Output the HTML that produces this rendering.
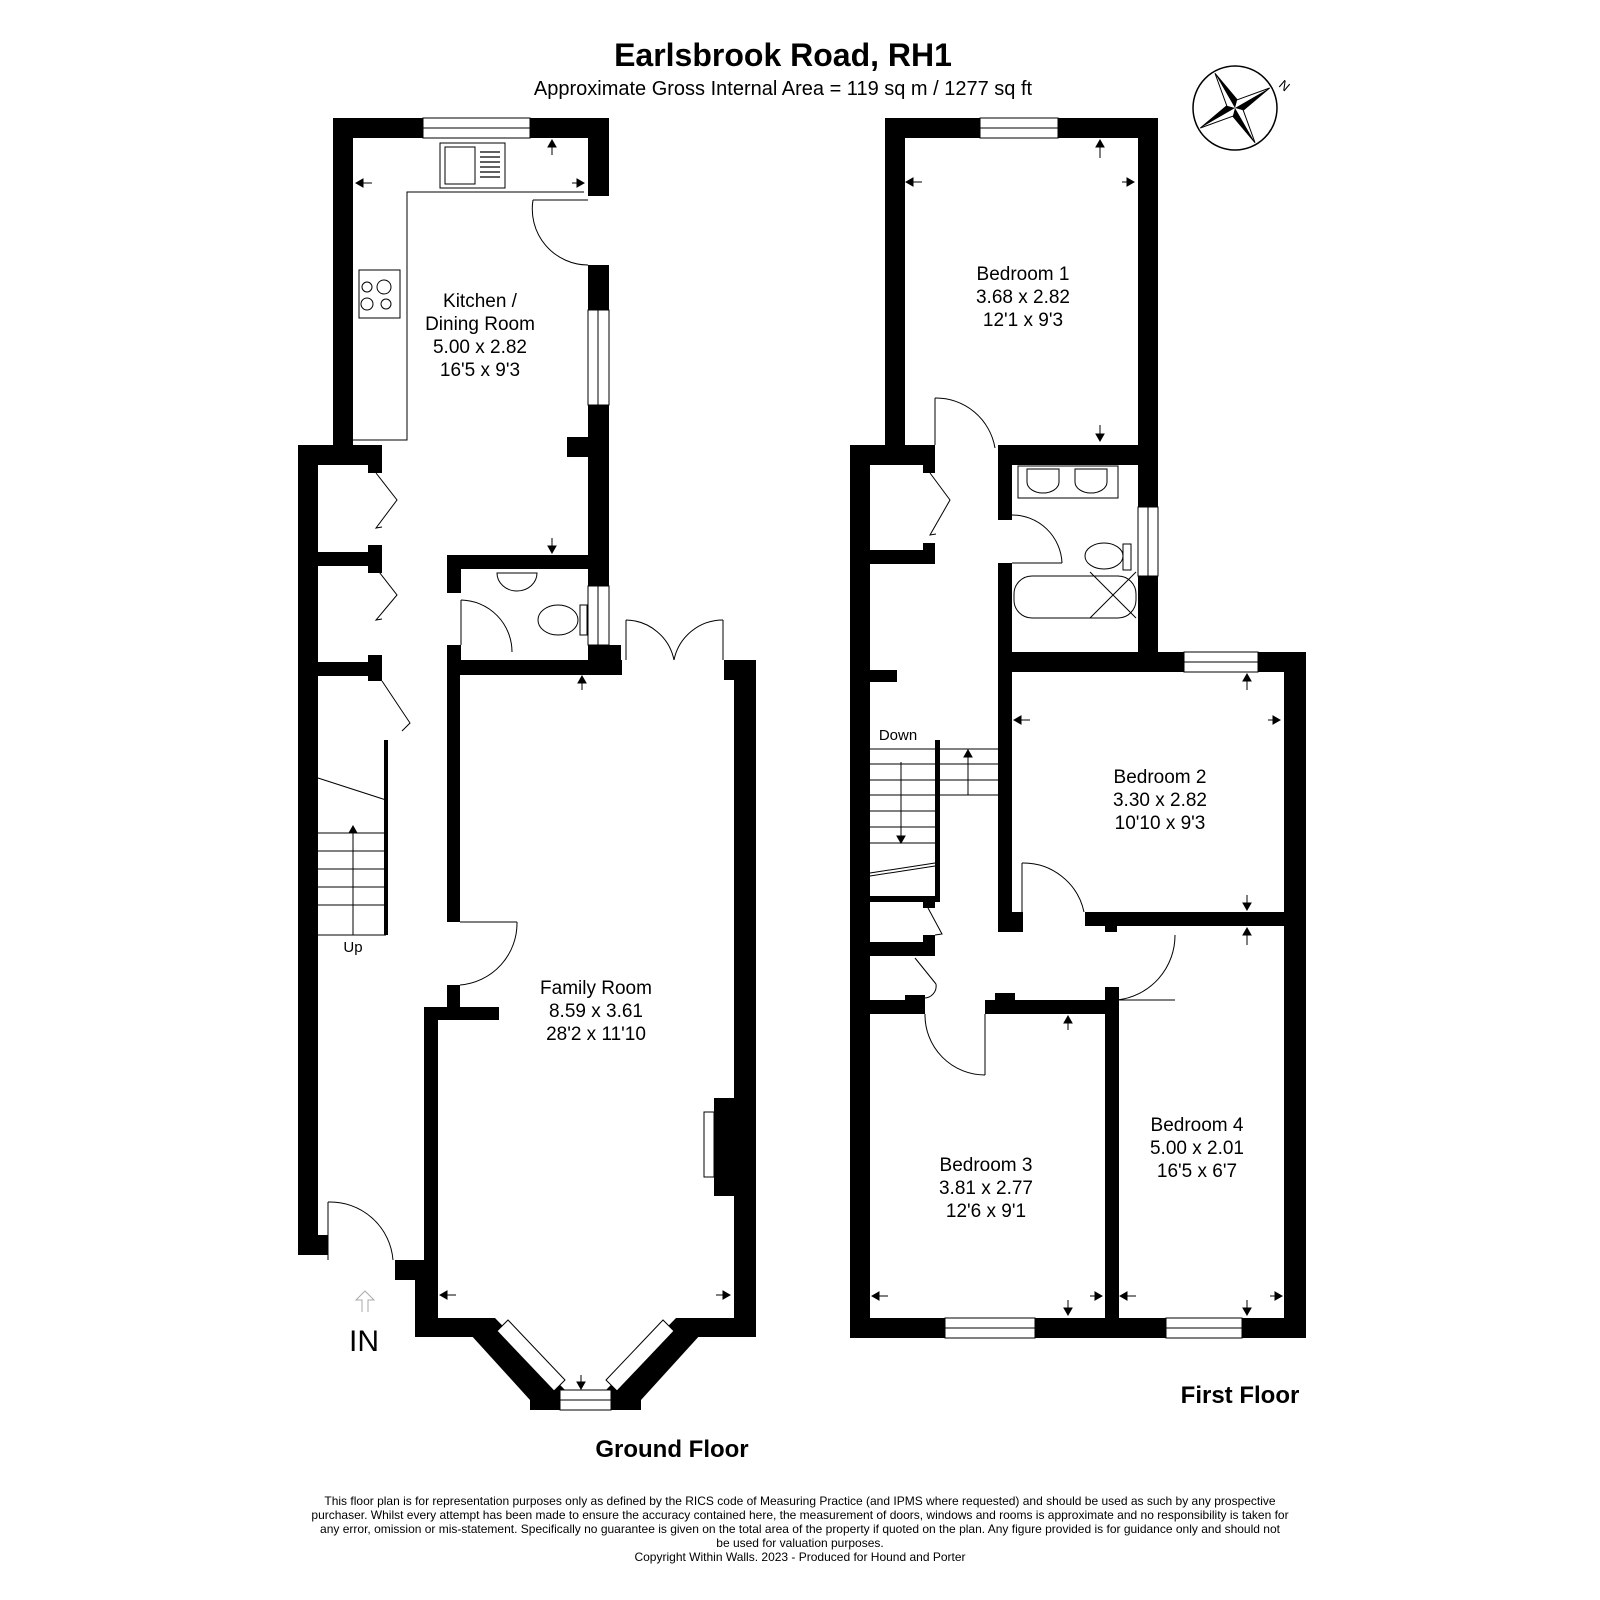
<!DOCTYPE html>
<html><head><meta charset="utf-8"><style>
html,body{margin:0;padding:0;background:#fff}
svg{display:block}
text{font-family:"Liberation Sans",Arial,sans-serif;fill:#000}
</style></head><body>
<svg width="1600" height="1600" viewBox="0 0 1600 1600" xmlns="http://www.w3.org/2000/svg">
<rect width="1600" height="1600" fill="#fff"/>
<text x="783" y="66" font-size="32" font-weight="bold" text-anchor="middle">Earlsbrook Road, RH1</text>
<text x="783" y="95" font-size="20" text-anchor="middle">Approximate Gross Internal Area = 119 sq m / 1277 sq ft</text>

<g transform="translate(1235,108)">
<circle r="42" fill="none" stroke="#000" stroke-width="1.5"/>
<g transform="rotate(-30)">
<line x1="-40" y1="0" x2="40" y2="0" stroke="#999" stroke-width="0.8"/>
<line x1="0" y1="-40" x2="0" y2="40" stroke="#999" stroke-width="0.8"/>
<path d="M0,-40 L6,-6 L40,0 L6,6 L0,40 L-6,6 L-40,0 L-6,-6Z" fill="#fff" stroke="#000" stroke-width="1"/>
<path d="M0,-40 L6,-6 L0,0Z M40,0 L6,6 L0,0Z M0,40 L-6,6 L0,0Z M-40,0 L-6,-6 L0,0Z" fill="#000"/>
</g>
</g>
<text x="1278" y="86" font-size="13" transform="rotate(40 1278 86)">N</text>

<g fill="#000">
<rect x="333" y="118" width="20" height="327"/>
<rect x="333" y="118" width="90" height="20"/>
<rect x="530" y="118" width="79" height="20"/>
<rect x="588" y="118" width="21" height="78"/>
<rect x="588" y="265" width="21" height="45"/>
<rect x="588" y="405" width="21" height="260"/>
<rect x="567" y="437" width="21" height="20"/>
<rect x="298" y="445" width="20" height="810"/>
<rect x="298" y="445" width="84" height="20"/>
<rect x="368" y="445" width="14" height="28"/>
<rect x="318" y="552" width="64" height="14"/>
<rect x="368" y="545" width="14" height="28"/>
<rect x="318" y="662" width="64" height="14"/>
<rect x="368" y="655" width="14" height="26"/>
<rect x="298" y="1235" width="30" height="20"/>
<rect x="447" y="555" width="162" height="14"/>
<rect x="447" y="555" width="14" height="38"/>
<rect x="447" y="645" width="14" height="30"/>
<rect x="447" y="660" width="175" height="15"/>
<rect x="588" y="645" width="33" height="30"/>
<rect x="447" y="660" width="13" height="262"/>
<rect x="447" y="985" width="13" height="22"/>
<rect x="424" y="1007" width="75" height="13"/>
<rect x="424" y="1007" width="14" height="330"/>
<rect x="395" y="1260" width="43" height="20"/>
<rect x="415" y="1260" width="23" height="77"/>
<rect x="724" y="660" width="22" height="20"/>
<rect x="734" y="660" width="22" height="677"/>
<rect x="714" y="1098" width="22" height="98"/>
<rect x="415" y="1318" width="80" height="19"/>
<rect x="676" y="1318" width="80" height="19"/>
<polygon points="485,1318 495,1318 565,1390 545,1410 530,1400 470,1334"/>
<polygon points="686,1318 676,1318 606,1390 626,1410 641,1400 701,1334"/>
<rect x="530" y="1390" width="30" height="20"/>
<rect x="611" y="1390" width="30" height="20"/>

<rect x="885" y="118" width="20" height="330"/>
<rect x="885" y="118" width="95" height="20"/>
<rect x="1058" y="118" width="100" height="20"/>
<rect x="1138" y="118" width="20" height="338"/>
<rect x="850" y="445" width="20" height="893"/>
<rect x="850" y="445" width="85" height="20"/>
<rect x="923" y="445" width="12" height="28"/>
<rect x="870" y="550" width="65" height="14"/>
<rect x="923" y="543" width="12" height="20"/>
<rect x="998" y="445" width="160" height="20"/>
<rect x="998" y="445" width="14" height="75"/>
<rect x="998" y="563" width="14" height="150"/>
<rect x="1138" y="445" width="20" height="62"/>
<rect x="1138" y="576" width="20" height="90"/>
<rect x="998" y="652" width="186" height="20"/>
<rect x="1258" y="652" width="48" height="20"/>
<rect x="1284" y="652" width="22" height="686"/>
<rect x="998" y="672" width="14" height="260"/>
<rect x="998" y="912" width="25" height="20"/>
<rect x="1085" y="912" width="221" height="14"/>
<rect x="1105" y="912" width="12" height="20"/>
<rect x="870" y="670" width="27" height="12"/>
<rect x="935" y="740" width="5" height="156"/>
<rect x="870" y="896" width="70" height="6"/>
<rect x="923" y="896" width="12" height="12"/>
<rect x="870" y="942" width="65" height="14"/>
<rect x="923" y="935" width="12" height="12"/>
<rect x="870" y="1000" width="55" height="14"/>
<rect x="905" y="995" width="20" height="12"/>
<rect x="985" y="1000" width="122" height="14"/>
<rect x="995" y="993" width="20" height="12"/>
<rect x="1105" y="995" width="14" height="343"/>
<rect x="1105" y="987" width="14" height="25"/>
<rect x="850" y="1318" width="456" height="20"/>
</g>

<g fill="#fff" stroke="#000" stroke-width="1">
<rect x="423" y="118" width="107" height="20"/><line x1="423" y1="128" x2="530" y2="128"/>
<rect x="588" y="310" width="21" height="95"/><line x1="598" y1="310" x2="598" y2="405"/>
<rect x="588" y="586" width="21" height="59"/><line x1="598" y1="586" x2="598" y2="645"/>
<rect x="560" y="1390" width="51" height="20"/><line x1="560" y1="1400" x2="611" y2="1400"/>
<rect x="980" y="118" width="78" height="20"/><line x1="980" y1="128" x2="1058" y2="128"/>
<rect x="1138" y="507" width="20" height="69"/><line x1="1148" y1="507" x2="1148" y2="576"/>
<rect x="1184" y="652" width="74" height="20"/><line x1="1184" y1="662" x2="1258" y2="662"/>
<rect x="945" y="1318" width="90" height="20"/><line x1="945" y1="1328" x2="1035" y2="1328"/>
<rect x="1166" y="1318" width="76" height="20"/><line x1="1166" y1="1328" x2="1242" y2="1328"/>
</g>
<g fill="#fff" stroke="#000" stroke-width="1">
<polygon points="497,1331 508,1320 565,1380 554,1391"/>
<polygon points="674,1331 663,1320 606,1380 617,1391"/>
</g>

<g fill="none" stroke="#000" stroke-width="1">
<polyline points="584,192 407,192 407,440 353,440"/>
<rect x="440" y="143" width="65" height="45"/><rect x="445" y="147" width="30" height="37"/>
<g stroke-width="1.2"><line x1="480" y1="152" x2="500" y2="152"/><line x1="480" y1="157" x2="500" y2="157"/><line x1="480" y1="162" x2="500" y2="162"/><line x1="480" y1="167" x2="500" y2="167"/><line x1="480" y1="172" x2="500" y2="172"/><line x1="480" y1="177" x2="500" y2="177"/></g>
<rect x="359" y="270" width="41" height="48"/>
<circle cx="367" cy="287" r="5"/><circle cx="384" cy="287" r="7"/><circle cx="367" cy="304" r="6"/><circle cx="386" cy="304" r="5"/>
<line x1="533" y1="200" x2="588" y2="200"/>
<path d="M533,200 A56,56 0 0 0 588,265"/>
<polyline points="376,473 397,500 376,528 382,527"/>
<polyline points="376,568 397,595 376,620 382,619"/>
<polyline points="382,681 410,723 402,731"/>
<line x1="461" y1="600" x2="461" y2="645"/>
<path d="M461,600 A52,52 0 0 1 512,652"/>
<path d="M497,573 h40 a20,18 0 0 1 -40,0z"/>
<ellipse cx="558" cy="620" rx="20" ry="15"/><rect x="580" y="605" width="7" height="30"/>
<line x1="626" y1="620" x2="626" y2="660"/><line x1="723" y1="620" x2="723" y2="660"/>
<path d="M626,620 A50,50 0 0 1 674,660"/><path d="M723,620 A50,50 0 0 0 674,660"/>
<line x1="460" y1="922" x2="517" y2="922"/>
<path d="M517,922 A62,62 0 0 1 460,985"/>
<rect x="704" y="1112" width="10" height="65"/>
<line x1="386" y1="740" x2="386" y2="935" stroke-width="4"/>
<line x1="318" y1="778" x2="386" y2="800"/>
<line x1="318" y1="833" x2="386" y2="833"/><line x1="318" y1="851" x2="386" y2="851"/><line x1="318" y1="869" x2="386" y2="869"/><line x1="318" y1="887" x2="386" y2="887"/><line x1="318" y1="905" x2="386" y2="905"/><line x1="318" y1="935" x2="386" y2="935"/>
<line x1="353" y1="828" x2="353" y2="935"/>
<line x1="328" y1="1202" x2="328" y2="1260"/>
<path d="M328,1202 A63,63 0 0 1 393,1260"/>
<path d="M362,1312 v-12 h-6 l9,-9 l9,9 h-6 v12" stroke="#aaa"/>

<line x1="935" y1="398" x2="935" y2="445"/>
<path d="M935,398 A60,60 0 0 1 995,448"/>
<polyline points="930,473 950,500 930,535 936,534"/>
<line x1="1012" y1="520" x2="1062" y2="520" stroke="none"/>
<line x1="1012" y1="563" x2="1062" y2="563"/>
<path d="M1012,515 A50,50 0 0 1 1062,563"/>
<rect x="1018" y="466" width="100" height="32"/>
<path d="M1027,469 h32 v13 a16,11 0 0 1 -32,0z"/><path d="M1075,469 h32 v13 a16,11 0 0 1 -32,0z"/>
<ellipse cx="1104" cy="556" rx="19" ry="13"/><rect x="1123" y="544" width="8" height="26"/>
<rect x="1014" y="576" width="122" height="42" rx="18"/>
<line x1="1090" y1="572" x2="1136" y2="618"/><line x1="1136" y1="572" x2="1090" y2="618"/>
<line x1="870" y1="749" x2="998" y2="749"/>
<line x1="870" y1="764" x2="998" y2="764"/><line x1="870" y1="780" x2="998" y2="780"/><line x1="870" y1="795" x2="998" y2="795"/>
<line x1="870" y1="811" x2="935" y2="811"/><line x1="870" y1="827" x2="935" y2="827"/><line x1="870" y1="843" x2="935" y2="843"/>
<line x1="870" y1="873" x2="935" y2="863"/><line x1="870" y1="876" x2="935" y2="866"/>
<line x1="968" y1="749" x2="968" y2="795"/>
<line x1="901" y1="762" x2="901" y2="840"/>
<line x1="1022" y1="863" x2="1022" y2="912"/>
<path d="M1022,863 A62,62 0 0 1 1084,912"/>
<line x1="1117" y1="1000" x2="1175" y2="1000"/>
<path d="M1175,935 A65,65 0 0 1 1117,1000"/>
<polyline points="928,908 942,934 935,935"/>
<polyline points="915,958 936,984"/>
<path d="M936,984 a12,12 0 0 1 -12,14"/>
<line x1="985" y1="1014" x2="985" y2="1075"/>
<path d="M925,1014 A60,60 0 0 0 985,1075"/>
</g>

<g stroke="#000" stroke-width="1" fill="#000">
<line x1="360" y1="183" x2="372" y2="183"/><path d="M356,183 l7,-4 v8z"/>
<line x1="572" y1="183" x2="580" y2="183"/><path d="M584,183 l-7,-4 v8z"/>
<line x1="552" y1="142" x2="552" y2="155"/><path d="M552,140 l-4,7 h8z"/>
<line x1="552" y1="538" x2="552" y2="548"/><path d="M552,553 l-4,-7 h8z"/>
<line x1="582" y1="678" x2="582" y2="690"/><path d="M582,676 l-4,7 h8z"/>
<line x1="443" y1="1295" x2="456" y2="1295"/><path d="M440,1295 l7,-4 v8z"/>
<line x1="716" y1="1295" x2="726" y2="1295"/><path d="M730,1295 l-7,-4 v8z"/>
<line x1="581" y1="1375" x2="581" y2="1385"/><path d="M581,1389 l-4,-7 h8z"/>
<line x1="910" y1="182" x2="922" y2="182"/><path d="M906,182 l7,-4 v8z"/>
<line x1="1122" y1="182" x2="1130" y2="182"/><path d="M1134,182 l-7,-4 v8z"/>
<line x1="1100" y1="142" x2="1100" y2="158"/><path d="M1100,140 l-4,7 h8z"/>
<line x1="1100" y1="425" x2="1100" y2="436"/><path d="M1100,441 l-4,-7 h8z"/>
<line x1="1017" y1="720" x2="1030" y2="720"/><path d="M1014,720 l7,-4 v8z"/>
<line x1="1268" y1="720" x2="1276" y2="720"/><path d="M1280,720 l-7,-4 v8z"/>
<line x1="1247" y1="676" x2="1247" y2="690"/><path d="M1247,674 l-4,7 h8z"/>
<line x1="1247" y1="895" x2="1247" y2="905"/><path d="M1247,910 l-4,-7 h8z"/>
<line x1="1247" y1="930" x2="1247" y2="945"/><path d="M1247,928 l-4,7 h8z"/>
<line x1="1068" y1="1018" x2="1068" y2="1030"/><path d="M1068,1016 l-4,7 h8z"/>
<line x1="875" y1="1296" x2="888" y2="1296"/><path d="M872,1296 l7,-4 v8z"/>
<line x1="1090" y1="1296" x2="1098" y2="1296"/><path d="M1102,1296 l-7,-4 v8z"/>
<line x1="1068" y1="1300" x2="1068" y2="1310"/><path d="M1068,1315 l-4,-7 h8z"/>
<line x1="1123" y1="1296" x2="1136" y2="1296"/><path d="M1120,1296 l7,-4 v8z"/>
<line x1="1270" y1="1296" x2="1278" y2="1296"/><path d="M1282,1296 l-7,-4 v8z"/>
<line x1="1247" y1="1300" x2="1247" y2="1310"/><path d="M1247,1315 l-4,-7 h8z"/>
<path d="M901,843 l-4,-7 h8z"/><path d="M968,750 l-4,7 h8z"/>
<path d="M353,826 l-4,7 h8z"/>
</g>

<g font-size="19" text-anchor="middle">
<text x="480" y="307">Kitchen /</text><text x="480" y="330">Dining Room</text><text x="480" y="353">5.00 x 2.82</text><text x="480" y="376">16'5 x 9'3</text>
<text x="596" y="994">Family Room</text><text x="596" y="1017">8.59 x 3.61</text><text x="596" y="1040">28'2 x 11'10</text>
<text x="1023" y="280">Bedroom 1</text><text x="1023" y="303">3.68 x 2.82</text><text x="1023" y="326">12'1 x 9'3</text>
<text x="1160" y="783">Bedroom 2</text><text x="1160" y="806">3.30 x 2.82</text><text x="1160" y="829">10'10 x 9'3</text>
<text x="986" y="1171">Bedroom 3</text><text x="986" y="1194">3.81 x 2.77</text><text x="986" y="1217">12'6 x 9'1</text>
<text x="1197" y="1131">Bedroom 4</text><text x="1197" y="1154">5.00 x 2.01</text><text x="1197" y="1177">16'5 x 6'7</text>
</g>
<text x="353" y="952" font-size="15" text-anchor="middle">Up</text>
<text x="898" y="740" font-size="15" text-anchor="middle">Down</text>
<text x="364" y="1351" font-size="30" text-anchor="middle">IN</text>
<text x="672" y="1457" font-size="24" font-weight="bold" text-anchor="middle">Ground Floor</text>
<text x="1240" y="1403" font-size="24" font-weight="bold" text-anchor="middle">First Floor</text>

<g font-size="12" text-anchor="middle">
<text x="800" y="1505">This floor plan is for representation purposes only as defined by the RICS code of Measuring Practice (and IPMS where requested) and should be used as such by any prospective</text>
<text x="800" y="1519">purchaser. Whilst every attempt has been made to ensure the accuracy contained here, the measurement of doors, windows and rooms is approximate and no responsibility is taken for</text>
<text x="800" y="1533">any error, omission or mis-statement. Specifically no guarantee is given on the total area of the property if quoted on the plan. Any figure provided is for guidance only and should not</text>
<text x="800" y="1547">be used for valuation purposes.</text>
<text x="800" y="1561">Copyright Within Walls. 2023 - Produced for Hound and Porter</text>
</g>
</svg>
</body></html>
